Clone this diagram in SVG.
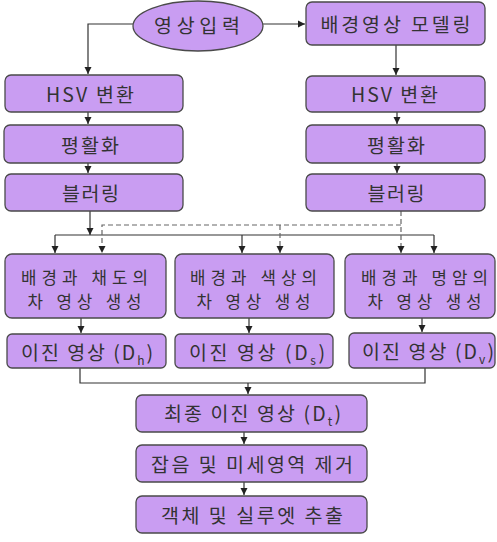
<svg xmlns="http://www.w3.org/2000/svg" width="497" height="542" viewBox="0 0 497 542">
<defs>
<marker id="ah" markerWidth="8" markerHeight="8" refX="7" refY="4" orient="auto" markerUnits="userSpaceOnUse">
<path d="M0,0.5 L7,4 L0,7.5 Z" fill="#222"/>
</marker>
</defs>
<style>
.box{fill:#c99df2;stroke:#4a4a4a;stroke-width:1.3}
.t{font-family:"Noto Sans CJK KR","Noto Sans",sans-serif;font-size:19.5px;fill:#333;text-anchor:middle}
.t2{font-family:"Noto Sans CJK KR","Noto Sans",sans-serif;font-size:16.8px;fill:#333;text-anchor:middle}
.c{fill:none;stroke:#333;stroke-width:1.2}
.d{fill:none;stroke:#666;stroke-width:1.2;stroke-dasharray:5,3}
</style>
<rect width="497" height="542" fill="#fff"/>
<g id="connectors">
<path class="c" d="M133,24 H88 V74" marker-end="url(#ah)"/>
<path class="c" d="M88,112 V124" marker-end="url(#ah)"/>
<path class="c" d="M88,163 V173" marker-end="url(#ah)"/>
<path class="c" d="M263,24 H305" marker-end="url(#ah)"/>
<path class="c" d="M396,45 V75" marker-end="url(#ah)"/>
<path class="c" d="M397,112 V124" marker-end="url(#ah)"/>
<path class="c" d="M397,163 V173" marker-end="url(#ah)"/>
<path class="c" d="M90,211 V235" marker-end="url(#ah)"/>
<path class="c" d="M55,235 H434"/>
<path class="c" d="M55,235 V253" marker-end="url(#ah)"/>
<path class="c" d="M242,235 V253" marker-end="url(#ah)"/>
<path class="c" d="M434,235 V253" marker-end="url(#ah)"/>
<path class="d" d="M401,211 V253" marker-end="url(#ah)"/>
<path class="d" d="M401,225 H102 V253" marker-end="url(#ah)"/>
<path class="d" d="M280,225 V253" marker-end="url(#ah)"/>
<path class="c" d="M81,318 V333" marker-end="url(#ah)"/>
<path class="c" d="M249,318 V333" marker-end="url(#ah)"/>
<path class="c" d="M422,318 V332" marker-end="url(#ah)"/>
<path class="c" d="M80,368 V383 H425 V368"/>
<path class="c" d="M248,383 V394" marker-end="url(#ah)"/>
<path class="c" d="M244,432 V444" marker-end="url(#ah)"/>
<path class="c" d="M244,482 V495" marker-end="url(#ah)"/>
</g>
<g id="n-input">
<ellipse class="box" cx="198" cy="26" rx="65" ry="25"/>
<text class="t" x="197" y="33" textLength="86" font-size="21">영상입력</text>
</g>
<g id="n-bgmodel">
<rect class="box" x="306" y="2" width="179" height="43" rx="6"/>
<text class="t" x="395.5" y="31.5" textLength="150">배경영상 모델링</text>
</g>
<g id="n-hsv-l">
<rect class="box" x="5" y="75" width="178" height="37" rx="6"/>
<text class="t" x="90" y="101.5" textLength="88">HSV 변환</text>
</g>
<g id="n-hsv-r">
<rect class="box" x="306" y="76" width="179" height="36" rx="6"/>
<text class="t" x="394.5" y="102" textLength="87">HSV 변환</text>
</g>
<g id="n-eq-l">
<rect class="box" x="4" y="125" width="179" height="38" rx="6"/>
<text class="t" x="90" y="152.5" textLength="58">평활화</text>
</g>
<g id="n-eq-r">
<rect class="box" x="306" y="125" width="179" height="38" rx="6"/>
<text class="t" x="396" y="152.5" textLength="58">평활화</text>
</g>
<g id="n-blur-l">
<rect class="box" x="5" y="174" width="178" height="37" rx="6"/>
<text class="t" x="90.5" y="200.5" textLength="57">블러링</text>
</g>
<g id="n-blur-r">
<rect class="box" x="306" y="174" width="179" height="37" rx="6"/>
<text class="t" x="396" y="200.5" textLength="57">블러링</text>
</g>
<g id="n-diff-s">
<rect class="box" x="5" y="254" width="161" height="64" rx="7"/>
<text class="t2" x="84.5" y="283.5" textLength="127">배경과 채도의</text>
<text class="t2" x="84.5" y="308" textLength="114">차 영상 생성</text>
</g>
<g id="n-diff-h">
<rect class="box" x="175" y="254" width="159" height="64" rx="7"/>
<text class="t2" x="253.5" y="283.5" textLength="127">배경과 색상의</text>
<text class="t2" x="253.5" y="308" textLength="114">차 영상 생성</text>
</g>
<g id="n-diff-v">
<rect class="box" x="345" y="254" width="150" height="64" rx="7"/>
<text class="t2" x="424.5" y="283.5" textLength="127">배경과 명암의</text>
<text class="t2" x="424.5" y="308" textLength="114">차 영상 생성</text>
</g>
<g id="n-bin-h">
<rect class="box" x="7" y="334" width="159" height="34" rx="5"/>
<text class="t" x="87" y="359.5" textLength="132">이진 영상 (D<tspan font-size="12" dy="5">h</tspan><tspan dy="-5">)</tspan></text>
</g>
<g id="n-bin-s">
<rect class="box" x="175" y="334" width="158" height="34" rx="5"/>
<text class="t" x="257" y="359.5" textLength="136">이진 영상 (D<tspan font-size="12" dy="5">s</tspan><tspan dy="-5">)</tspan></text>
</g>
<g id="n-bin-v">
<rect class="box" x="349" y="333" width="146" height="35" rx="5"/>
<text class="t" x="428" y="359" textLength="132">이진 영상 (D<tspan font-size="12" dy="5">v</tspan><tspan dy="-5">)</tspan></text>
</g>
<g id="n-final">
<rect class="box" x="136" y="395" width="231" height="37" rx="6"/>
<text class="t" x="252.5" y="421" textLength="177">최종 이진 영상 (D<tspan font-size="12" dy="5">t</tspan><tspan dy="-5">)</tspan></text>
</g>
<g id="n-noise">
<rect class="box" x="136" y="445" width="231" height="37" rx="6"/>
<text class="t" x="252" y="472" textLength="202">잡음 및 미세영역 제거</text>
</g>
<g id="n-extract">
<rect class="box" x="136" y="496" width="231" height="37" rx="6"/>
<text class="t" x="252" y="523" textLength="182">객체 및 실루엣 추출</text>
</g>
</svg>
